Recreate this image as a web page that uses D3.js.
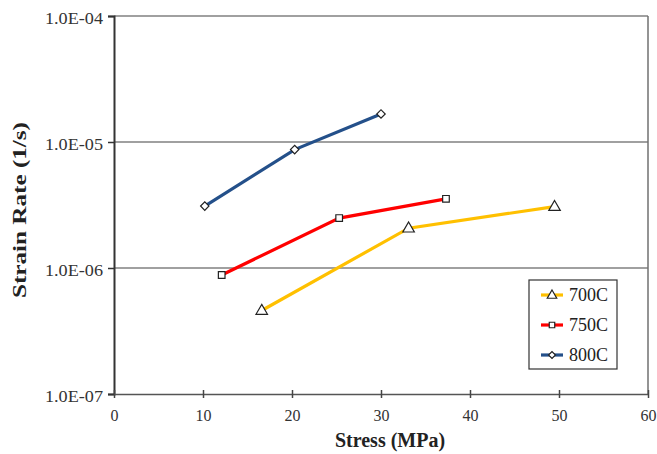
<!DOCTYPE html>
<html>
<head>
<meta charset="utf-8">
<script src="https://cdn.jsdelivr.net/npm/d3@7"></script>
<style>
  body { margin: 0; background: #fff; }
</style>
</head>
<body>
<div id="chart"></div>
<script>
const series = ['700C', '750C', '800C']
const colors = ['#ffc000', '#ff0000', '#24508a']

const stress700 = [16.6, 33.1, 49.5]
const rate700 = [4.6e-7, 2.07e-6, 3.07e-6]
const stress750 = [12.1, 25.3, 37.3]
const rate750 = [8.8e-7, 2.49e-6, 3.54e-6]
const stress800 = [10.2, 20.3, 30.0]
const rate800 = [3.1e-6, 8.7e-6, 1.67e-5]

const xTicks = [0, 10, 20, 30, 40, 50, 60]
const yTicks = [1e-7, 1e-6, 1e-5, 1e-4]
const yTickLabels = ['1.0E-07', '1.0E-06', '1.0E-05', '1.0E-04']

const w = 657
const h = 454
const font = '"Liberation Serif", "Times New Roman", serif'

const xScale = d3.scaleLinear().domain([0, 60]).range([114, 648])
const yScale = d3.scaleLog().domain([1e-7, 1e-4]).range([394, 16])

const svg = d3.select('#chart')
  .append('svg')
  .attr('width', w)
  .attr('height', h)

// marker shapes: triangle, square, diamond (square turned 45deg)
function marker(sel, k, s) {
  if (k === 0) {
    sel.append('path')
      .attr('d', d3.symbol().type(d3.symbolTriangle).size(s * 1.3)())
      .attr('transform', 'translate(0, 0.5)')
  } else if (k === 1) {
    sel.append('path').attr('d', d3.symbol().type(d3.symbolSquare).size(s)())
  } else {
    sel.append('path')
      .attr('d', d3.symbol().type(d3.symbolSquare).size(s * 0.8)())
      .attr('transform', 'rotate(45)')
  }
  sel.selectAll('path')
    .attr('fill', '#fff')
    .attr('stroke', '#222')
    .attr('stroke-width', 1.2)
}

// gridlines
svg.append('g')
  .selectAll('line')
  .data(yTicks.slice(1))
  .enter()
  .append('line')
  .attr('x1', xScale(0))
  .attr('x2', xScale(60))
  .attr('y1', d => yScale(d))
  .attr('y2', d => yScale(d))
  .attr('stroke', '#808080')
  .attr('stroke-width', 1.5)

// right border
svg.append('line')
  .attr('x1', xScale(60)).attr('x2', xScale(60))
  .attr('y1', yScale(1e-4)).attr('y2', yScale(1e-7))
  .attr('stroke', '#707070')
  .attr('stroke-width', 1.5)

// y axis
const yAxis = d3.axisLeft(yScale)
  .tickValues(yTicks)
  .tickSize(6)
  .tickPadding(5)
  .tickFormat((d, i) => yTickLabels[i])

const gy = svg.append('g')
  .attr('transform', `translate(${xScale(0)}, 0)`)
  .call(yAxis)
  .attr('font-family', null)
gy.select('.domain').attr('stroke', '#333').attr('stroke-width', 2)
gy.selectAll('.tick line').attr('stroke', '#333').attr('stroke-width', 1.5)
gy.selectAll('.tick text')
  .style('font-family', font)
  .style('font-size', '16px')
  .attr('fill', '#333')
  .attr('dy', '0.46em')
  .attr('textLength', 58)
  .attr('lengthAdjust', 'spacingAndGlyphs')

// x axis
const xAxis = d3.axisBottom(xScale)
  .tickValues(xTicks)
  .tickSizeInner(4)
  .tickSizeOuter(0)
  .tickPadding(12)

const gx = svg.append('g')
  .attr('transform', `translate(0, ${yScale(1e-7)})`)
  .call(xAxis)
  .attr('font-family', null)
gx.select('.domain').attr('stroke', '#555').attr('stroke-width', 1.5)
gx.selectAll('.tick line').attr('stroke', '#444').attr('stroke-width', 1.5).attr('y1', -4)
gx.selectAll('.tick text')
  .style('font-family', font)
  .style('font-size', '16px')
  .attr('fill', '#333')

// axis titles
svg.append('text')
  .attr('x', 390)
  .attr('y', 447)
  .attr('text-anchor', 'middle')
  .style('font-family', font)
  .style('font-size', '20px')
  .style('font-weight', 'bold')
  .attr('fill', '#222')
  .text('Stress (MPa)')

svg.append('text')
  .attr('transform', 'translate(26, 210) rotate(-90)')
  .attr('text-anchor', 'middle')
  .attr('textLength', 176)
  .attr('lengthAdjust', 'spacingAndGlyphs')
  .style('font-family', font)
  .style('font-size', '19px')
  .style('font-weight', 'bold')
  .attr('fill', '#222')
  .text('Strain Rate (1/s)')

// series
const data = [
  stress700.map((s, i) => ({ x: s, y: rate700[i] })),
  stress750.map((s, i) => ({ x: s, y: rate750[i] })),
  stress800.map((s, i) => ({ x: s, y: rate800[i] }))
]

const line = d3.line().x(d => xScale(d.x)).y(d => yScale(d.y))

data.forEach((pts, k) => {
  svg.append('path')
    .datum(pts)
    .attr('d', line)
    .attr('fill', 'none')
    .attr('stroke', colors[k])
    .attr('stroke-width', 3.2)

  svg.selectAll('.m' + k)
    .data(pts)
    .enter()
    .append('g')
    .attr('class', 'm' + k)
    .attr('transform', d => `translate(${xScale(d.x)}, ${yScale(d.y)})`)
    .each(function () { marker(d3.select(this), k, 44) })
})

// legend
const legend = svg.append('g')
legend.append('rect')
  .attr('x', 529).attr('y', 280)
  .attr('width', 88).attr('height', 89)
  .attr('fill', '#fff')
  .attr('stroke', '#333')
  .attr('stroke-width', 1.2)

const rows = legend.selectAll('.row')
  .data(series)
  .enter()
  .append('g')
  .attr('transform', (d, i) => `translate(0, ${295 + i * 30})`)

rows.append('line')
  .attr('x1', 541).attr('x2', 563)
  .attr('stroke', (d, i) => colors[i])
  .attr('stroke-width', 3.2)

rows.append('g')
  .attr('transform', 'translate(552, 0)')
  .each(function (d, i) { marker(d3.select(this), i, 30) })

rows.append('text')
  .attr('x', 569)
  .attr('y', 6)
  .style('font-family', font)
  .style('font-size', '18px')
  .attr('fill', '#222')
  .text(d => d)
</script>
</body>
</html>
